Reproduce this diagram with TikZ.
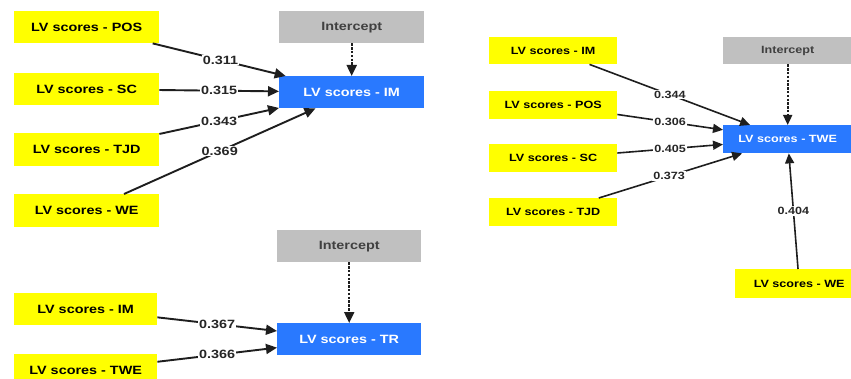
\documentclass[tikz,border=0pt]{standalone}
\usepackage{fontspec}
\setmainfont{Liberation Sans}[FakeStretch=1.2]
\usetikzlibrary{arrows.meta}
\definecolor{lvyellow}{RGB}{255,255,0}
\definecolor{lvblue}{RGB}{41,121,255}
\definecolor{lvgray}{RGB}{192,192,192}
\definecolor{lvline}{RGB}{30,30,30}
\tikzset{
  box/.style={draw=none, inner sep=0pt, anchor=north west},
  src/.style={box, fill=lvyellow, font=\bfseries\fontsize{12}{14}\selectfont, text=black},
  tgt/.style={box, fill=lvblue, font=\bfseries\fontsize{12}{14}\selectfont, text=white},
  icpt/.style={box, fill=lvgray, font=\bfseries\fontsize{12}{14}\selectfont, text=black!75},
  small/.style={font=\bfseries\fontsize{10.5}{12}\selectfont},
  path/.style={draw=lvline, line width=1.9pt, -{Triangle[length=11pt,width=10pt]}},
  pathr/.style={draw=lvline, line width=1.6pt, -{Triangle[length=10pt,width=9pt]}},
  icline/.style={draw=lvline, line width=2pt, dash pattern=on 2.5pt off 1.3pt, -{Triangle[length=11pt,width=10pt]}},
  iclr/.style={draw=lvline, line width=1.7pt, dash pattern=on 2.5pt off 1.3pt, -{Triangle[length=10pt,width=9pt]}},
  wt/.style={fill=white, inner sep=1pt, font=\bfseries\fontsize{12}{14}\selectfont, text=black!85},
  wtr/.style={fill=white, inner sep=1pt, font=\bfseries\fontsize{10.5}{12}\selectfont, text=black!85},
}
\begin{document}
\begin{tikzpicture}[x=1pt, y=-1pt]
\useasboundingbox (0,0) rectangle (851,379);
\clip (0,0) rectangle (851,379);

% ---- Model for IM ----
\node[src, minimum width=145pt, minimum height=32pt] (pos1) at (14,11) {LV scores - POS};
\node[src, minimum width=145pt, minimum height=32pt] (sc1)  at (14,73) {LV scores - SC};
\node[src, minimum width=145pt, minimum height=33pt] (tjd1) at (14,133) {LV scores - TJD};
\node[src, minimum width=145pt, minimum height=33pt] (we1)  at (14,194) {LV scores - WE};
\node[icpt, minimum width=145pt, minimum height=32pt] (ic1) at (279,11) {Intercept};
\node[tgt, minimum width=145pt, minimum height=32pt] (im1) at (279,76) {LV scores - IM};

\draw[path] (pos1) -- node[wt, pos=0.51] {0.311} (im1);
\draw[path] (sc1)  -- node[wt, pos=0.5] {0.315} (im1);
\draw[path] (tjd1) -- node[wt, pos=0.5] {0.343} (im1);
\draw[path] (we1)  -- node[wt, pos=0.5] {0.369} (im1);
\draw[icline] (ic1.south) -- (im1.north);

% ---- Model for TR ----
\node[icpt, minimum width=144pt, minimum height=32pt] (ic2) at (277,230) {Intercept};
\node[tgt, minimum width=144pt, minimum height=32pt] (tr2) at (277,323) {LV scores - TR};
\node[src, minimum width=143pt, minimum height=32pt] (im2)  at (14,293) {LV scores - IM};
\node[src, minimum width=143pt, minimum height=32pt] (twe2) at (14,354) {LV scores - TWE};

\draw[path] (im2)  -- node[wt, pos=0.5] {0.367} (tr2);
\draw[path] (twe2) -- node[wt, pos=0.5] {0.366} (tr2);
\draw[icline] (ic2.south) -- (tr2.north);

% ---- Model for TWE ----
\node[src, small, minimum width=128pt, minimum height=27pt] (im3)  at (489,37) {LV scores - IM};
\node[src, small, minimum width=128pt, minimum height=28pt] (pos3) at (489,91) {LV scores - POS};
\node[src, small, minimum width=128pt, minimum height=28pt] (sc3)  at (489,144) {LV scores - SC};
\node[src, small, minimum width=128pt, minimum height=28pt] (tjd3) at (489,198) {LV scores - TJD};
\node[icpt, small, minimum width=129pt, minimum height=27pt] (ic3) at (723,37) {Intercept};
\node[tgt, small, minimum width=129pt, minimum height=28pt] (twe3) at (723,125) {LV scores - TWE};
\node[src, small, minimum width=128pt, minimum height=29pt] (we3)  at (735,269) {LV scores - WE};

\draw[pathr] (im3)  -- node[wtr, pos=0.5] {0.344} (twe3);
\draw[pathr] (pos3) -- node[wtr, pos=0.5] {0.306} (twe3);
\draw[pathr] (sc3)  -- node[wtr, pos=0.5] {0.405} (twe3);
\draw[pathr] (tjd3) -- node[wtr, pos=0.49] {0.373} (twe3);
\draw[pathr] (we3)  -- node[wtr, pos=0.5] {0.404} (twe3);
\draw[iclr] (ic3.south) -- (twe3.north);
\end{tikzpicture}
\end{document}
